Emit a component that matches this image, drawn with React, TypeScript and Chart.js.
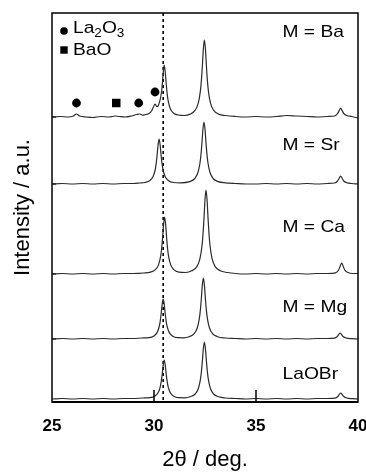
import { useEffect, useRef } from "react";
import { Chart, registerables } from "chart.js";

Chart.register(...registerables);

// ---------- data ----------
const X_MIN = 25;
const X_MAX = 40;
const X_STEP = 5;
const Y_MAX = 389;

const sampleNames = ["M = Ba", "M = Sr", "M = Ca", "M = Mg", "LaOBr"];
// vertical offsets of each pattern (stacked)
const baselines = [285, 218, 128, 63, 3];

// [2θ, intensity above own baseline]
const baPattern: [number, number][] = [
  [25, 0], [25.4, 0.5], [25.8, 0], [26.05, 1], [26.2, 3], [26.35, 1], [26.7, 0], [27.0, -0.5], [27.4, 0.5], [27.8, 0],
  [28.1, 1], [28.3, 0.5], [28.6, 0], [28.9, 1], [29.15, 2.5], [29.3, 3], [29.45, 1.8], [29.6, 2.5], [29.75, 3.5], [29.88, 6],
  [29.97, 10], [30.05, 13], [30.13, 10.5], [30.2, 11], [30.27, 15], [30.33, 20], [30.38, 27], [30.42, 36], [30.46, 46], [30.5, 52],
  [30.55, 45], [30.6, 33], [30.65, 22.4], [30.7, 15.6], [30.8, 8.3], [30.95, 4], [31.2, 2], [31.5, 1.5], [31.77, 2.9], [32.02, 6.8],
  [32.17, 13.9], [32.27, 25.4], [32.32, 35.9], [32.37, 50.8], [32.42, 68.3], [32.47, 77], [32.52, 68.3], [32.57, 50.8], [32.62, 35.9], [32.67, 25.4],
  [32.77, 13.9], [32.92, 6.8], [33.17, 2.9], [33.5, 1.5], [34, 0.5], [34.5, 0], [35, 0.5], [35.5, 0], [36, 0.5], [36.5, 1.5],
  [37, 1], [37.5, 0.5], [38, 0], [38.5, 0.5], [38.85, 1], [39.0, 3.5], [39.08, 6.5], [39.15, 9], [39.22, 6.5], [39.3, 3.5],
  [39.45, 1.5], [39.7, 0.5], [40, -1],
];

const srPattern: [number, number][] = [
  [25, 0], [25.5, 0.5], [26, 0], [26.5, 0.5], [27, 0], [27.5, 0.5], [28, 0], [28.5, 0.5], [29, 0.5], [29.3, 1],
  [29.55, 1.5], [29.8, 3.5], [29.95, 7.2], [30.05, 13.5], [30.1, 19.4], [30.15, 28.4], [30.2, 39.2], [30.25, 45], [30.3, 39.2], [30.35, 28.4],
  [30.4, 19.4], [30.45, 13.5], [30.55, 7.2], [30.7, 3.5], [30.95, 1.5], [31.3, 1.2], [31.75, 2.4], [32.0, 5.5], [32.15, 11.2], [32.25, 20.5],
  [32.3, 28.9], [32.35, 40.9], [32.4, 55], [32.45, 62], [32.5, 55], [32.55, 40.9], [32.6, 28.9], [32.65, 20.5], [32.75, 11.2], [32.9, 5.5],
  [33.15, 2.4], [33.5, 1.2], [34, 0.5], [34.5, 0], [35, 0], [35.5, 0.5], [36, 0], [36.5, 0.5], [37, 0], [37.5, 0.5],
  [38, 0], [38.5, 0.5], [38.85, 1], [39.0, 3], [39.08, 5.8], [39.15, 8], [39.22, 5.8], [39.3, 3], [39.45, 1.2], [39.7, 0.5],
  [40, 0],
];

const caPattern: [number, number][] = [
  [25, 0], [25.5, 0.5], [26, 0], [26.5, 0.5], [27, 0], [27.5, 0.5], [28, 0], [28.5, 0.5], [29, 0.5], [29.5, 1],
  [29.82, 1.9], [30.07, 4.4], [30.22, 9.1], [30.32, 17.1], [30.37, 24.5], [30.42, 35.9], [30.47, 49.6], [30.52, 57], [30.57, 49.6], [30.62, 35.9],
  [30.67, 24.5], [30.72, 17.1], [30.82, 9.1], [30.97, 4.4], [31.22, 1.9], [31.55, 1.5], [31.85, 3.2], [32.1, 7.4], [32.25, 15.1], [32.35, 27.7],
  [32.4, 39.1], [32.45, 55.4], [32.5, 74.5], [32.55, 84], [32.6, 74.5], [32.65, 55.4], [32.7, 39.1], [32.75, 27.7], [32.85, 15.1], [33.0, 7.4],
  [33.25, 3.2], [33.6, 1.5], [34, 0.5], [34.5, 0], [35, 0.5], [35.5, 0], [36, 0.5], [36.5, 0], [37, 0.5], [37.5, 0],
  [38, 0.5], [38.5, 0.5], [38.9, 1.2], [39.05, 4], [39.13, 8], [39.2, 11], [39.27, 8], [39.35, 4], [39.5, 1.5], [39.75, 0.5],
  [40, 0.5],
];

const mgPattern: [number, number][] = [
  [25, 0], [25.5, 0.5], [26, 0], [26.5, 0.5], [27, 0], [27.5, 0.5], [28, 0], [28.5, 0.5], [29, 0.5], [29.4, 1],
  [29.75, 1.3], [30.0, 3.1], [30.15, 6.4], [30.25, 12], [30.3, 17.2], [30.35, 25.2], [30.4, 34.8], [30.45, 40], [30.5, 34.8], [30.55, 25.2],
  [30.6, 17.2], [30.65, 12], [30.75, 6.4], [30.9, 3.1], [31.15, 1.3], [31.45, 1.2], [31.72, 2.3], [31.97, 5.4], [32.12, 11], [32.22, 20.1],
  [32.27, 28.4], [32.32, 40.3], [32.37, 54.1], [32.42, 61], [32.47, 54.1], [32.52, 40.3], [32.57, 28.4], [32.62, 20.1], [32.72, 11], [32.87, 5.4],
  [33.12, 2.3], [33.5, 1], [34, 0.5], [34.5, 0], [35, 0.5], [35.5, 0], [36, 0.5], [36.5, 0], [37, 0.5], [37.5, 0],
  [38, 0.5], [38.5, 0.5], [38.85, 0.8], [38.98, 2.5], [39.05, 4.5], [39.12, 6], [39.19, 4.5], [39.27, 2.5], [39.42, 1], [39.7, 0.3],
  [40, 0],
];

const lbPattern: [number, number][] = [
  [25, 0], [25.5, 0.5], [26, 0], [26.5, 0.5], [27, 0], [27.5, 0.5], [28, 0], [28.5, 0.5], [29, 0.5], [29.45, 1],
  [29.8, 1.3], [30.05, 3], [30.2, 6.2], [30.3, 11.7], [30.35, 16.8], [30.4, 24.6], [30.45, 33.9], [30.5, 39], [30.55, 33.9], [30.6, 24.6],
  [30.65, 16.8], [30.7, 11.7], [30.8, 6.2], [30.95, 3], [31.2, 1.3], [31.5, 1.2], [31.77, 2.2], [32.02, 5], [32.17, 10.3], [32.27, 18.8],
  [32.32, 26.6], [32.37, 37.6], [32.42, 50.6], [32.47, 57], [32.52, 50.6], [32.57, 37.6], [32.62, 26.6], [32.67, 18.8], [32.77, 10.3], [32.92, 5],
  [33.17, 2.2], [33.5, 1], [34, 0.5], [34.5, 0], [35, 0.5], [35.5, 0], [36, 0.5], [36.5, 0], [37, 0.5], [37.5, 0],
  [38, 0.5], [38.5, 0.5], [38.88, 0.8], [39.01, 2.5], [39.08, 4.5], [39.15, 6], [39.22, 4.5], [39.3, 2.5], [39.45, 1], [39.72, 0.3],
  [40, 0],
];

const patterns = [baPattern, srPattern, caPattern, mgPattern, lbPattern];

// impurity markers above the M = Ba pattern
const la2o3X = [26.2, 29.25, 30.05];
const la2o3Y = [299, 299, 310];
const baoX = [28.15];
const baoY = [299];

// reference line position (LaOBr main reflection)
const refLineX = 30.45;
const innerTicksX = [30, 35];

// ---------- layout / style ----------
const FONT = "'Liberation Sans', Arial, Helvetica, sans-serif";
const LINE_COLOR = "#2b2b2b";
const TEXT_STRETCH = 1.13;
const LABEL_SIZE = 17;
const labelPos: [number, number][] = [
  [36.3, 365.5],
  [36.3, 252],
  [36.3, 170],
  [36.3, 90],
  [36.3, 23],
];

function drawStretched(ctx: CanvasRenderingContext2D, text: string, x: number, y: number, size: number) {
  ctx.save();
  ctx.translate(x, y);
  ctx.scale(TEXT_STRETCH, 1);
  ctx.font = `${size}px ${FONT}`;
  ctx.textBaseline = "alphabetic";
  ctx.textAlign = "left";
  ctx.fillText(text, 0, 0);
  const w = ctx.measureText(text).width * TEXT_STRETCH;
  ctx.restore();
  return w;
}

const decorPlugin = {
  id: "decor",
  beforeDatasetsDraw(chart: any) {
    const { ctx, chartArea, scales } = chart;
    const px = scales.x.getPixelForValue(refLineX);
    ctx.save();
    ctx.strokeStyle = "#000";
    ctx.lineWidth = 1.6;
    ctx.setLineDash([3, 3]);
    ctx.beginPath();
    ctx.moveTo(px, chartArea.top);
    ctx.lineTo(px, chartArea.bottom);
    ctx.stroke();
    ctx.restore();
  },
  afterDraw(chart: any) {
    const { ctx, chartArea, scales } = chart;
    const { left, right, top, bottom } = chartArea;
    ctx.save();
    ctx.strokeStyle = "#000";
    ctx.setLineDash([]);
    // frame
    ctx.lineWidth = 1.5;
    ctx.strokeRect(left, top, right - left, bottom - top);
    ctx.lineWidth = 2;
    ctx.beginPath();
    ctx.moveTo(left, bottom);
    ctx.lineTo(right, bottom);
    ctx.stroke();
    // inner x ticks
    ctx.lineWidth = 1.5;
    innerTicksX.forEach((v) => {
      const x = scales.x.getPixelForValue(v);
      ctx.beginPath();
      ctx.moveTo(x, bottom);
      ctx.lineTo(x, bottom - 12);
      ctx.stroke();
    });
    // inner y ticks at pattern baselines
    ctx.lineWidth = 1;
    baselines.slice(0, 4).forEach((b) => {
      const y = scales.y.getPixelForValue(b);
      ctx.beginPath();
      ctx.moveTo(left, y);
      ctx.lineTo(left + 4, y);
      ctx.stroke();
    });
    // sample labels
    ctx.fillStyle = "#000";
    sampleNames.forEach((name, i) => {
      const [lx, ly] = labelPos[i];
      drawStretched(ctx, name, scales.x.getPixelForValue(lx), scales.y.getPixelForValue(ly), LABEL_SIZE);
    });
    // legend
    const lx = left + 12;
    ctx.beginPath();
    ctx.arc(lx, top + 18, 3.8, 0, Math.PI * 2);
    ctx.fill();
    let tx = left + 21;
    const ty1 = top + 20;
    tx += drawStretched(ctx, "La", tx, ty1, LABEL_SIZE);
    tx += drawStretched(ctx, "2", tx, ty1 + 4, 12);
    tx += drawStretched(ctx, "O", tx, ty1, LABEL_SIZE);
    drawStretched(ctx, "3", tx, ty1 + 4, 12);
    ctx.fillRect(lx - 3.7, top + 37 - 3.7, 7.4, 7.4);
    drawStretched(ctx, "BaO", left + 21, top + 42, LABEL_SIZE);
    ctx.restore();
  },
};

export default function App() {
  const ref = useRef<HTMLCanvasElement>(null);
  useEffect(() => {
    const canvas = ref.current;
    if (!canvas) return;
    const traceSets = sampleNames.map((name, i) => ({
      type: "line" as const,
      label: name,
      data: patterns[i].map(([x, v]) => ({ x, y: baselines[i] + v })),
      borderColor: LINE_COLOR,
      borderWidth: 1.2,
      pointRadius: 0,
      cubicInterpolationMode: "monotone" as const,
      fill: false,
    }));
    const chart = new Chart(canvas, {
      type: "line",
      data: {
        datasets: [
          ...traceSets,
          {
            type: "scatter",
            label: "La2O3",
            data: la2o3X.map((x, i) => ({ x, y: la2o3Y[i] })),
            pointStyle: "circle",
            pointRadius: 4.4,
            backgroundColor: "#000",
            borderColor: "#000",
            borderWidth: 0,
            showLine: false,
          },
          {
            type: "scatter",
            label: "BaO",
            data: baoX.map((x, i) => ({ x, y: baoY[i] })),
            pointStyle: "rect",
            pointRadius: 6,
            backgroundColor: "#000",
            borderColor: "#000",
            borderWidth: 0,
            showLine: false,
          },
        ] as any,
      },
      options: {
        responsive: false,
        animation: false,
        devicePixelRatio: 1,
        layout: { padding: { top: 13, right: 8, left: 0, bottom: 0 } },
        plugins: { legend: { display: false }, tooltip: { enabled: false } },
        scales: {
          x: {
            type: "linear",
            min: X_MIN,
            max: X_MAX,
            ticks: {
              stepSize: X_STEP,
              color: "#000",
              padding: 14,
              font: { family: FONT, size: 17, weight: "bold" },
              maxRotation: 0,
            },
            grid: { display: false, drawTicks: false },
            border: { display: false },
            title: {
              display: true,
              text: "2θ / deg.",
              color: "#000",
              font: { family: FONT, size: 22 },
              padding: { top: 0, bottom: 1 },
            },
            afterFit: (s: any) => {
              s.height = 72;
              s.paddingLeft = 0;
              s.paddingRight = 0;
            },
          },
          y: {
            type: "linear",
            min: 0,
            max: Y_MAX,
            ticks: { display: false },
            grid: { display: false, drawTicks: false },
            border: { display: false },
            title: {
              display: true,
              text: "Intensity / a.u.",
              color: "#000",
              font: { family: FONT, size: 22 },
              padding: { top: 10, bottom: 0 },
            },
            afterFit: (s: any) => {
              s.width = 52;
            },
          },
        },
      } as any,
      plugins: [decorPlugin],
    });
    return () => chart.destroy();
  }, []);
  return (
    <div style={{ position: "fixed", left: 0, top: 0, width: 366, height: 474, background: "#fff" }}>
      <canvas ref={ref} width={366} height={474} style={{ display: "block", width: 366, height: 474 }} />
    </div>
  );
}
